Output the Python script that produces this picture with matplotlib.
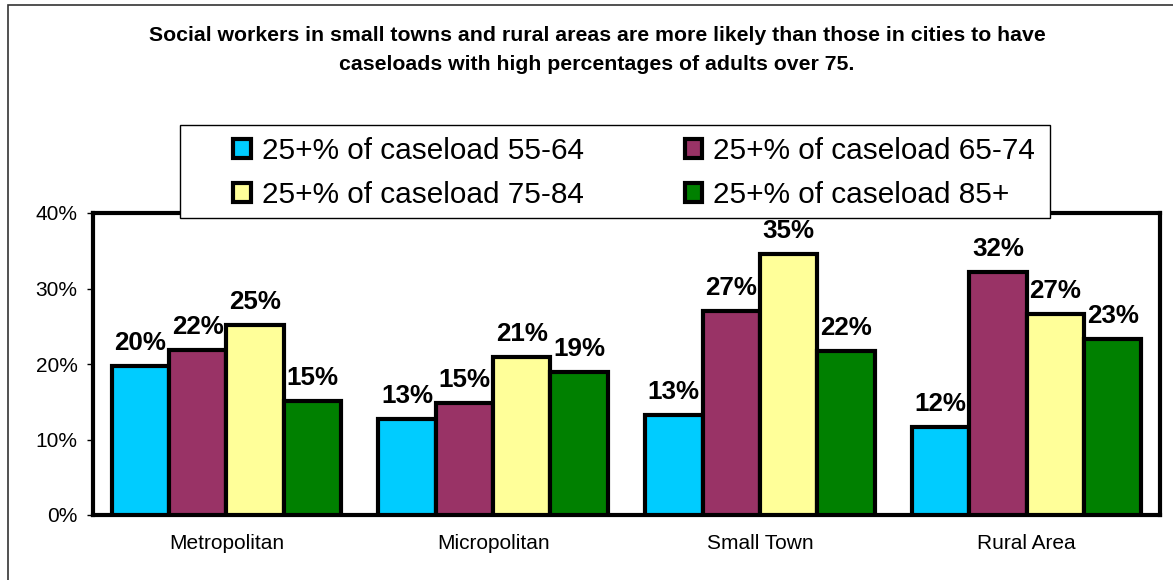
import numpy as np
import matplotlib
matplotlib.use("Agg")
import matplotlib.pyplot as plt
from matplotlib.patches import Rectangle

plt.rcParams["font.family"] = ["Liberation Sans", "DejaVu Sans"]

# Data
categories = ["Metropolitan", "Micropolitan", "Small Town", "Rural Area"]
series_names = [
    "25+% of caseload 55-64",
    "25+% of caseload 65-74",
    "25+% of caseload 75-84",
    "25+% of caseload 85+",
]
age_55_64 = [19.7, 12.7, 13.2, 11.6]
age_65_74 = [21.9, 14.8, 27.0, 32.2]
age_75_84 = [25.2, 20.9, 34.6, 26.6]
age_85_plus = [15.1, 18.9, 21.7, 23.3]
series_values = [age_55_64, age_65_74, age_75_84, age_85_plus]
colors = ["#00CCFF", "#993366", "#FFFF99", "#008000"]
y_ticks = [0, 10, 20, 30, 40]

W, H = 1173, 580
fig = plt.figure(figsize=(W / 100, H / 100), dpi=100)
ax = fig.add_axes([93 / W, 1 - 515 / H, (1160 - 93) / W, (515 - 213) / H])

x = np.arange(len(categories))
bar_w = 0.215
handles = []
for j, (name, vals, col) in enumerate(zip(series_names, series_values, colors)):
    pos = x + (j - 1.5) * bar_w
    bars = ax.bar(pos, vals, width=bar_w, color=col, edgecolor="black",
                  linewidth=3, label=name, zorder=3)
    handles.append(bars)
    for px, v in zip(pos, vals):
        ax.annotate(f"{v:.0f}%", (px, v), xytext=(0, 8), textcoords="offset points",
                    ha="center", va="bottom", fontsize=18.7, fontweight="bold", zorder=4)

ax.set_xlim(-0.5, len(categories) - 0.5)
ax.set_ylim(0, 40)
ax.set_yticks(y_ticks)
ax.set_yticklabels([f"{t}%" for t in y_ticks], fontsize=15)
ax.set_xticks(x)
ax.set_xticklabels(categories, fontsize=15)
ax.tick_params(axis="x", length=0, pad=14)
ax.tick_params(axis="y", length=4, width=1, direction="out", pad=7)
for s in ax.spines.values():
    s.set_linewidth(3)
    s.set_color("black")

# legend box drawn separately (wide side padding as in the original)
fig.add_artist(Rectangle((180 / W, 1 - 218 / H), 870 / W, 93 / H,
                         transform=fig.transFigure, facecolor="white",
                         edgecolor="black", linewidth=1, zorder=5))
order = [0, 2, 1, 3]
leg = fig.legend([handles[i] for i in order], [series_names[i] for i in order],
                 ncol=2, loc="center", bbox_to_anchor=(634 / W, 1 - 173 / H),
                 fontsize=21.4, frameon=False,
                 handlelength=0.6, handleheight=0.6, handletextpad=0.35,
                 columnspacing=3.4, labelspacing=0.53, borderpad=0,
                 borderaxespad=0)
leg.set_zorder(6)

title = ("Social workers in small towns and rural areas are more likely than those in cities to have\n"
         "caseloads with high percentages of adults over 75.")
fig.text(597 / W, 1 - 50 / H, title, ha="center", va="center",
         fontsize=15.3, fontweight="bold", linespacing=1.7)

# outer chart border
fig.add_artist(Rectangle((8 / W, -0.05), 1.2, 1.05 - 5 / H, transform=fig.transFigure,
                         fill=False, edgecolor="#333333", linewidth=1.2))

fig.savefig("out.png", dpi=100)
